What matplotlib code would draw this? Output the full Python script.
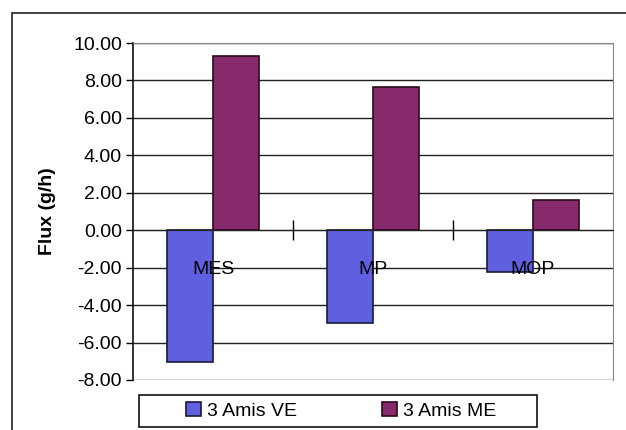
import matplotlib.pyplot as plt
import matplotlib.patches as mpatches
import numpy as np

plt.rcParams["font.family"] = ["Liberation Sans", "DejaVu Sans"]

categories = ["MES", "MP", "MOP"]
series_names = ["3 Amis VE", "3 Amis ME"]
flux_ve = [-7.05, -4.95, -2.25]
flux_me = [9.30, 7.65, 1.60]
yticks = [-8, -6, -4, -2, 0, 2, 4, 6, 8, 10]

color_ve = "#5f5fe0"
color_me = "#862a6c"

fig = plt.figure(figsize=(6.26, 4.30), dpi=100)
ax = fig.add_axes([133 / 626, 50 / 430, 480 / 626, 337 / 430])

x = np.arange(len(categories))
w = 0.285
ax.bar(x - w / 2, flux_ve, w, color=color_ve, edgecolor="#1a1a3a", linewidth=1.2,
       label=series_names[0], zorder=2)
ax.bar(x + w / 2, flux_me, w, color=color_me, edgecolor="#2a0a1a", linewidth=1.2,
       label=series_names[1], zorder=2)

ax.set_xlim(-0.5, len(categories) - 0.5)
ax.set_ylim(-8, 10)
ax.set_yticks(yticks)
ax.set_yticklabels(["%.2f" % v for v in yticks], fontsize=14)
ax.yaxis.grid(True, color="#222222", linewidth=1.0)
ax.set_axisbelow(True)
ax.tick_params(axis="y", length=5, width=1, direction="out", pad=3)

# category axis crosses at zero, labels sit just under it and over the bars
ax.spines["bottom"].set_position(("data", 0))
ax.spines["bottom"].set_color("#222222")
ax.spines["bottom"].set_zorder(4)
ax.xaxis.set_zorder(5)
ax.set_xticks(x)
ax.set_xticklabels(categories, fontsize=14)
ax.set_xticks(x[:-1] + 0.5, minor=True)
ax.tick_params(axis="x", which="major", length=0, pad=22)
ax.tick_params(axis="x", which="minor", length=14, width=1, direction="inout")
ax.spines["left"].set_color("#111111")
ax.spines["left"].set_linewidth(1.2)
ax.spines["top"].set_color("#888888")
ax.spines["right"].set_color("#888888")

ax.set_ylabel("Flux (g/h)", fontsize=14, fontweight="bold", labelpad=12)

# legend entries without frame, box drawn separately
leg = fig.legend(loc="center", bbox_to_anchor=(341 / 626, 1 - 411 / 430),
                 ncol=2, frameon=False, fontsize=14,
                 handlelength=0.75, handleheight=0.75, handletextpad=0.3,
                 columnspacing=4.4, borderaxespad=0)
for h in leg.legend_handles:
    h.set_linewidth(1.2)
fig.patches.append(mpatches.Rectangle((139 / 626, 1 - 427 / 430), 398 / 626, 32 / 430,
                                      transform=fig.transFigure, fill=False,
                                      edgecolor="#111111", linewidth=1.2))

# outer chart frame
fig.patches.append(mpatches.Rectangle((12 / 626, -0.1), 1.2, 1.1 - 13 / 430,
                                      transform=fig.transFigure, fill=False,
                                      edgecolor="#333333", linewidth=1.3))

fig.savefig("out.png", dpi=100)
